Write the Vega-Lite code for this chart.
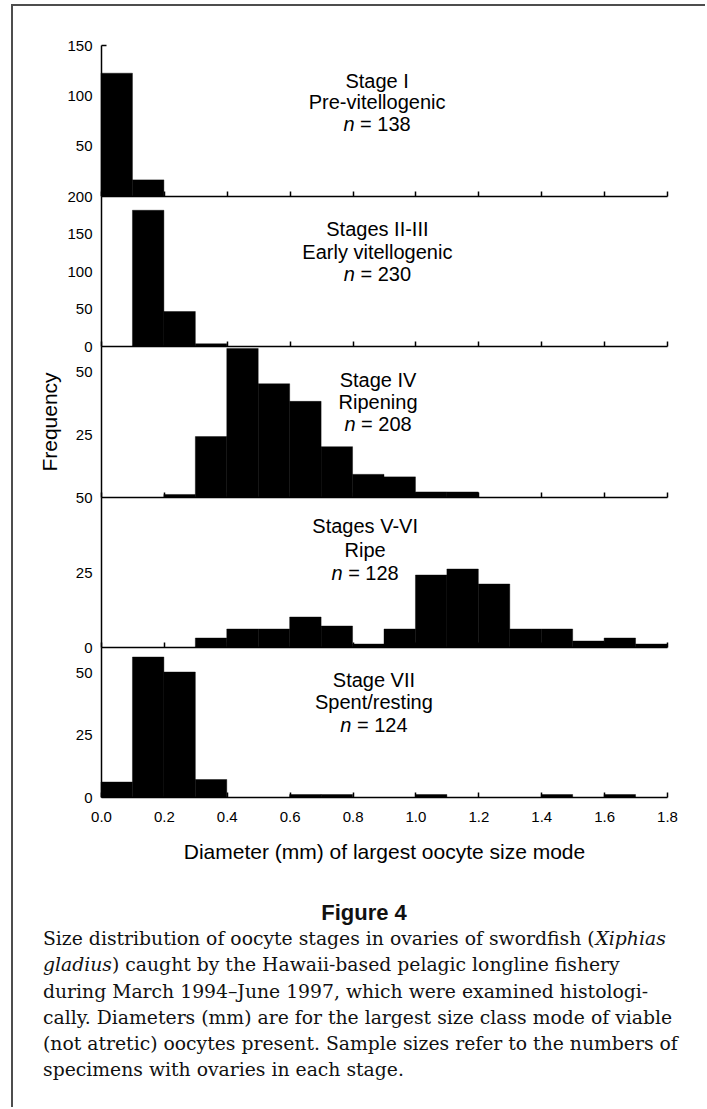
{
  "$schema": "https://vega.github.io/schema/vega-lite/v6.json",
  "padding": {"left": 11, "top": 4, "right": 0, "bottom": 0},
  "background": "white",
  "config": {
    "view": {"stroke": null},
    "font": "Liberation Sans",
    "axis": {
      "labelFont": "Liberation Sans", "titleFont": "Liberation Sans",
      "labelColor": "#000", "titleColor": "#000", "domainColor": "#000", "tickColor": "#000",
      "grid": false, "labelFontSize": 15, "titleFontWeight": "normal",
      "domainWidth": 1.5, "tickWidth": 1.5, "labelFlush": false, "labelOverlap": false
    },
    "axisY": {"labelOverlap": false},
    "axisQuantitative": {"labelOverlap": false}
  },
  "datasets": {
    "hist": [
      {"stage": "I", "lo": 0.0, "hi": 0.1, "count": 122},
      {"stage": "I", "lo": 0.1, "hi": 0.2, "count": 16},
      {"stage": "II-III", "lo": 0.1, "hi": 0.2, "count": 181},
      {"stage": "II-III", "lo": 0.2, "hi": 0.3, "count": 46},
      {"stage": "II-III", "lo": 0.3, "hi": 0.4, "count": 3},
      {"stage": "IV", "lo": 0.2, "hi": 0.3, "count": 1},
      {"stage": "IV", "lo": 0.3, "hi": 0.4, "count": 24},
      {"stage": "IV", "lo": 0.4, "hi": 0.5, "count": 59},
      {"stage": "IV", "lo": 0.5, "hi": 0.6, "count": 45},
      {"stage": "IV", "lo": 0.6, "hi": 0.7, "count": 38},
      {"stage": "IV", "lo": 0.7, "hi": 0.8, "count": 20},
      {"stage": "IV", "lo": 0.8, "hi": 0.9, "count": 9},
      {"stage": "IV", "lo": 0.9, "hi": 1.0, "count": 8},
      {"stage": "IV", "lo": 1.0, "hi": 1.1, "count": 2},
      {"stage": "IV", "lo": 1.1, "hi": 1.2, "count": 2},
      {"stage": "V-VI", "lo": 0.3, "hi": 0.4, "count": 3},
      {"stage": "V-VI", "lo": 0.4, "hi": 0.5, "count": 6},
      {"stage": "V-VI", "lo": 0.5, "hi": 0.6, "count": 6},
      {"stage": "V-VI", "lo": 0.6, "hi": 0.7, "count": 10},
      {"stage": "V-VI", "lo": 0.7, "hi": 0.8, "count": 7},
      {"stage": "V-VI", "lo": 0.8, "hi": 0.9, "count": 1},
      {"stage": "V-VI", "lo": 0.9, "hi": 1.0, "count": 6},
      {"stage": "V-VI", "lo": 1.0, "hi": 1.1, "count": 24},
      {"stage": "V-VI", "lo": 1.1, "hi": 1.2, "count": 26},
      {"stage": "V-VI", "lo": 1.2, "hi": 1.3, "count": 21},
      {"stage": "V-VI", "lo": 1.3, "hi": 1.4, "count": 6},
      {"stage": "V-VI", "lo": 1.4, "hi": 1.5, "count": 6},
      {"stage": "V-VI", "lo": 1.5, "hi": 1.6, "count": 2},
      {"stage": "V-VI", "lo": 1.6, "hi": 1.7, "count": 3},
      {"stage": "V-VI", "lo": 1.7, "hi": 1.8, "count": 1},
      {"stage": "VII", "lo": 0.0, "hi": 0.1, "count": 6},
      {"stage": "VII", "lo": 0.1, "hi": 0.2, "count": 56},
      {"stage": "VII", "lo": 0.2, "hi": 0.3, "count": 50},
      {"stage": "VII", "lo": 0.3, "hi": 0.4, "count": 7},
      {"stage": "VII", "lo": 0.6, "hi": 0.7, "count": 1},
      {"stage": "VII", "lo": 0.7, "hi": 0.8, "count": 1},
      {"stage": "VII", "lo": 1.0, "hi": 1.1, "count": 1},
      {"stage": "VII", "lo": 1.4, "hi": 1.5, "count": 1},
      {"stage": "VII", "lo": 1.6, "hi": 1.7, "count": 1}
    ],
    "labels": [
      {"stage": "I", "title": "Stage I", "desc": "Pre-vitellogenic", "nlab": "= 138"},
      {"stage": "II-III", "title": "Stages II-III", "desc": "Early vitellogenic", "nlab": "= 230"},
      {"stage": "IV", "title": "Stage IV", "desc": "Ripening", "nlab": "= 208"},
      {"stage": "V-VI", "title": "Stages V-VI", "desc": "Ripe", "nlab": "= 128"},
      {"stage": "VII", "title": "Stage VII", "desc": "Spent/resting", "nlab": "= 124"}
    ],
    "caption": [
      {"line": 0, "fig": "Figure 4"},
      {"line": 1, "l": "Size distribution of oocyte stages in ovaries of swordfish (", "ri": "Xiphias"},
      {"line": 2, "li": "gladius", "l2": ") caught by the Hawaii-based pelagic longline fishery"},
      {"line": 3, "l": "during March 1994\u2013June 1997, which were examined histologi-"},
      {"line": 4, "l": "cally. Diameters (mm) are for the largest size class mode of viable"},
      {"line": 5, "l": "(not atretic) oocytes present. Sample sizes refer to the numbers of"},
      {"line": 6, "l": "specimens with ovaries in each stage."}
    ]
  },
  "bounds": "flush",
  "spacing": 0,
  "hconcat": [
    {
      "width": 89,
      "height": 1102,
      "view": {"stroke": "#4d4d4d", "strokeWidth": 2, "strokeDash": [89, 1191, 1102]},
      "data": {"name": "caption"},
      "encoding": {
        "y": {"field": "line", "type": "quantitative", "axis": null, "scale": {"domain": [-34.70, 7.41], "reverse": true, "nice": false, "zero": false}}
      },
      "layer": [
        {
          "transform": [{"filter": "datum.fig"}],
          "mark": {"type": "text", "font": "Liberation Sans", "fontWeight": "bold", "fontSize": 22, "align": "center", "baseline": "middle", "color": "#111"},
          "encoding": {
            "x": {"datum": 0.504, "type": "quantitative", "axis": null, "scale": {"domain": [-0.048666, 0.091051], "nice": false, "zero": false}},
            "text": {"field": "fig"}
          }
        },
        {
          "transform": [{"filter": "datum.l"}],
          "mark": {"type": "text", "font": "DejaVu Serif", "fontSize": 18.8, "align": "left", "baseline": "middle", "color": "#111"},
          "encoding": {
            "x": {"datum": 0, "type": "quantitative", "axis": null, "scale": {"domain": [-0.048666, 0.091051], "nice": false, "zero": false}},
            "text": {"field": "l"}
          }
        },
        {
          "transform": [{"filter": "datum.l2"}],
          "mark": {"type": "text", "font": "DejaVu Serif", "fontSize": 18.8, "align": "left", "baseline": "middle", "dx": 69, "color": "#111"},
          "encoding": {
            "x": {"datum": 0, "type": "quantitative", "axis": null, "scale": {"domain": [-0.048666, 0.091051], "nice": false, "zero": false}},
            "text": {"field": "l2"}
          }
        },
        {
          "transform": [{"filter": "datum.li"}],
          "mark": {"type": "text", "font": "DejaVu Serif", "fontStyle": "italic", "fontSize": 18.8, "align": "left", "baseline": "middle", "color": "#111"},
          "encoding": {
            "x": {"datum": 0, "type": "quantitative", "axis": null, "scale": {"domain": [-0.048666, 0.091051], "nice": false, "zero": false}},
            "text": {"field": "li"}
          }
        },
        {
          "transform": [{"filter": "datum.ri"}],
          "mark": {"type": "text", "font": "DejaVu Serif", "fontStyle": "italic", "fontSize": 18.8, "align": "left", "baseline": "middle", "color": "#111"},
          "encoding": {
            "x": {"datum": 0.8673, "type": "quantitative", "axis": null, "scale": {"domain": [-0.048666, 0.091051], "nice": false, "zero": false}},
            "text": {"field": "ri"}
          }
        }
      ]
    },
    {
      "bounds": "flush",
      "spacing": 0,
      "vconcat": [
        {
          "width": 604, "height": 191,
          "view": {"stroke": "#4d4d4d", "strokeWidth": 2, "strokeDash": [604, 3000]},
          "layer": [
            {
              "data": {"name": "hist"},
              "transform": [{"filter": "datum.stage == 'I'"}],
              "mark": {"type": "rect", "color": "#000", "stroke": "#000", "strokeWidth": 0.4},
              "encoding": {
                "x": {"field": "lo", "type": "quantitative", "scale": {"domain": [0, 1.8], "range": [0, 566], "nice": false}, "axis": {"values": [0, 0.2, 0.4, 0.6, 0.8, 1.0, 1.2, 1.4, 1.6, 1.8], "labels": false, "title": null, "tickSize": -5}},
                "x2": {"field": "hi"},
                "y": {"field": "count", "type": "quantitative", "scale": {"domain": [0, 150], "range": [191, 40], "nice": false}, "axis": {"values": [50, 100, 150], "title": null, "tickSize": -5, "labelPadding": 14, "labelFlush": false, "labelOverlap": false}},
                "y2": {"datum": 0}
              }
            },
            {
              "data": {"name": "labels"},
              "transform": [{"filter": "datum.stage == 'I'"}],
              "layer": [
                {"mark": {"type": "text", "fontSize": 20, "align": "center", "baseline": "middle", "color": "#000"},
                 "encoding": {"x": {"datum": 0.878, "type": "quantitative"}, "y": {"datum": 113.5, "type": "quantitative"}, "text": {"field": "title"}}},
                {"mark": {"type": "text", "fontSize": 20, "align": "center", "baseline": "middle", "color": "#000"},
                 "encoding": {"x": {"datum": 0.878, "type": "quantitative"}, "y": {"datum": 92.1, "type": "quantitative"}, "text": {"field": "desc"}}},
                {"mark": {"type": "text", "fontSize": 20, "fontStyle": "italic", "align": "right", "baseline": "middle", "dx": -22.5, "color": "#000"},
                 "encoding": {"x": {"datum": 0.878, "type": "quantitative"}, "y": {"datum": 70.5, "type": "quantitative"}, "text": {"value": "n"}}},
                {"mark": {"type": "text", "fontSize": 20, "align": "left", "baseline": "middle", "dx": -17, "color": "#000"},
                 "encoding": {"x": {"datum": 0.878, "type": "quantitative"}, "y": {"datum": 70.5, "type": "quantitative"}, "text": {"field": "nlab"}}}
              ]
            }
          ]
        },
        {
          "width": 566, "height": 150,
          "layer": [
            {
              "data": {"name": "hist"},
              "transform": [{"filter": "datum.stage == 'II-III'"}],
              "mark": {"type": "rect", "color": "#000", "stroke": "#000", "strokeWidth": 0.4},
              "encoding": {
                "x": {"field": "lo", "type": "quantitative", "scale": {"domain": [0, 1.8], "nice": false}, "axis": {"values": [0, 0.2, 0.4, 0.6, 0.8, 1.0, 1.2, 1.4, 1.6, 1.8], "labels": false, "title": null, "tickSize": -5}},
                "x2": {"field": "hi"},
                "y": {"field": "count", "type": "quantitative", "scale": {"domain": [0, 200], "nice": false}, "axis": {"values": [0, 50, 100, 150, 200], "title": null, "ticks": false, "labelPadding": 9, "labelFlush": false, "labelOverlap": false, "labelSeparation": 0}},
                "y2": {"datum": 0}
              }
            },
            {
              "data": {"name": "labels"},
              "transform": [{"filter": "datum.stage == 'II-III'"}],
              "layer": [
                {"mark": {"type": "text", "fontSize": 20, "align": "center", "baseline": "middle", "color": "#000"},
                 "encoding": {"x": {"datum": 0.879, "type": "quantitative"}, "y": {"datum": 154.8, "type": "quantitative", "axis": {"values": [0, 50, 100, 150, 200], "title": null, "ticks": false, "labelPadding": 9, "labelFlush": false, "labelOverlap": false, "labelSeparation": 0}}, "text": {"field": "title"}}},
                {"mark": {"type": "text", "fontSize": 20, "align": "center", "baseline": "middle", "color": "#000"},
                 "encoding": {"x": {"datum": 0.879, "type": "quantitative"}, "y": {"datum": 124.4, "type": "quantitative", "axis": {"values": [0, 50, 100, 150, 200], "title": null, "ticks": false, "labelPadding": 9, "labelFlush": false, "labelOverlap": false, "labelSeparation": 0}}, "text": {"field": "desc"}}},
                {"mark": {"type": "text", "fontSize": 20, "fontStyle": "italic", "align": "right", "baseline": "middle", "dx": -22.5, "color": "#000"},
                 "encoding": {"x": {"datum": 0.879, "type": "quantitative"}, "y": {"datum": 95.3, "type": "quantitative", "axis": {"values": [0, 50, 100, 150, 200], "title": null, "ticks": false, "labelPadding": 9, "labelFlush": false, "labelOverlap": false, "labelSeparation": 0}}, "text": {"value": "n"}}},
                {"mark": {"type": "text", "fontSize": 20, "align": "left", "baseline": "middle", "dx": -17, "color": "#000"},
                 "encoding": {"x": {"datum": 0.879, "type": "quantitative"}, "y": {"datum": 95.3, "type": "quantitative", "axis": {"values": [0, 50, 100, 150, 200], "title": null, "ticks": false, "labelPadding": 9, "labelFlush": false, "labelOverlap": false, "labelSeparation": 0}}, "text": {"field": "nlab"}}}
              ]
            }
          ]
        },
        {
          "width": 566, "height": 151,
          "layer": [
            {
              "data": {"name": "hist"},
              "transform": [{"filter": "datum.stage == 'IV'"}],
              "mark": {"type": "rect", "color": "#000", "stroke": "#000", "strokeWidth": 0.4},
              "encoding": {
                "x": {"field": "lo", "type": "quantitative", "scale": {"domain": [0, 1.8], "nice": false}, "axis": {"values": [0, 0.2, 0.4, 0.6, 0.8, 1.0, 1.2, 1.4, 1.6, 1.8], "labels": false, "title": null, "tickSize": -5}},
                "x2": {"field": "hi"},
                "y": {"field": "count", "type": "quantitative", "scale": {"domain": [0, 60], "nice": false}, "axis": {"values": [25, 50], "title": "Frequency", "titleFontSize": 21, "titlePadding": 14.5, "ticks": false, "labelPadding": 9, "labelFlush": false, "labelOverlap": false}},
                "y2": {"datum": 0}
              }
            },
            {
              "data": {"name": "labels"},
              "transform": [{"filter": "datum.stage == 'IV'"}],
              "layer": [
                {"mark": {"type": "text", "fontSize": 20, "align": "center", "baseline": "middle", "color": "#000"},
                 "encoding": {"x": {"datum": 0.881, "type": "quantitative"}, "y": {"datum": 46.2, "type": "quantitative"}, "text": {"field": "title"}}},
                {"mark": {"type": "text", "fontSize": 20, "align": "center", "baseline": "middle", "color": "#000"},
                 "encoding": {"x": {"datum": 0.881, "type": "quantitative"}, "y": {"datum": 37.2, "type": "quantitative"}, "text": {"field": "desc"}}},
                {"mark": {"type": "text", "fontSize": 20, "fontStyle": "italic", "align": "right", "baseline": "middle", "dx": -22.5, "color": "#000"},
                 "encoding": {"x": {"datum": 0.881, "type": "quantitative"}, "y": {"datum": 28.6, "type": "quantitative"}, "text": {"value": "n"}}},
                {"mark": {"type": "text", "fontSize": 20, "align": "left", "baseline": "middle", "dx": -17, "color": "#000"},
                 "encoding": {"x": {"datum": 0.881, "type": "quantitative"}, "y": {"datum": 28.6, "type": "quantitative"}, "text": {"field": "nlab"}}}
              ]
            }
          ]
        },
        {
          "width": 566, "height": 150,
          "layer": [
            {
              "data": {"name": "hist"},
              "transform": [{"filter": "datum.stage == 'V-VI'"}],
              "mark": {"type": "rect", "color": "#000", "stroke": "#000", "strokeWidth": 0.4},
              "encoding": {
                "x": {"field": "lo", "type": "quantitative", "scale": {"domain": [0, 1.8], "nice": false}, "axis": {"values": [0, 0.2, 0.4, 0.6, 0.8, 1.0, 1.2, 1.4, 1.6, 1.8], "labels": false, "title": null, "tickSize": -5}},
                "x2": {"field": "hi"},
                "y": {"field": "count", "type": "quantitative", "scale": {"domain": [0, 50], "nice": false}, "axis": {"values": [0, 25, 50], "title": null, "ticks": false, "labelPadding": 9, "labelFlush": false, "labelOverlap": false}},
                "y2": {"datum": 0}
              }
            },
            {
              "data": {"name": "labels"},
              "transform": [{"filter": "datum.stage == 'V-VI'"}],
              "layer": [
                {"mark": {"type": "text", "fontSize": 20, "align": "center", "baseline": "middle", "color": "#000"},
                 "encoding": {"x": {"datum": 0.84, "type": "quantitative"}, "y": {"datum": 39.9, "type": "quantitative"}, "text": {"field": "title"}}},
                {"mark": {"type": "text", "fontSize": 20, "align": "center", "baseline": "middle", "color": "#000"},
                 "encoding": {"x": {"datum": 0.84, "type": "quantitative"}, "y": {"datum": 32.1, "type": "quantitative"}, "text": {"field": "desc"}}},
                {"mark": {"type": "text", "fontSize": 20, "fontStyle": "italic", "align": "right", "baseline": "middle", "dx": -22.5, "color": "#000"},
                 "encoding": {"x": {"datum": 0.84, "type": "quantitative"}, "y": {"datum": 24.3, "type": "quantitative"}, "text": {"value": "n"}}},
                {"mark": {"type": "text", "fontSize": 20, "align": "left", "baseline": "middle", "dx": -17, "color": "#000"},
                 "encoding": {"x": {"datum": 0.84, "type": "quantitative"}, "y": {"datum": 24.3, "type": "quantitative"}, "text": {"field": "nlab"}}}
              ]
            }
          ]
        },
        {
          "width": 566, "height": 150,
          "layer": [
            {
              "data": {"name": "hist"},
              "transform": [{"filter": "datum.stage == 'VII'"}],
              "mark": {"type": "rect", "color": "#000", "stroke": "#000", "strokeWidth": 0.4},
              "encoding": {
                "x": {"field": "lo", "type": "quantitative", "scale": {"domain": [0, 1.8], "nice": false}, "axis": {"values": [0, 0.2, 0.4, 0.6, 0.8, 1.0, 1.2, 1.4, 1.6, 1.8], "format": ".1f", "labelPadding": 17, "tickSize": -5, "labelFlush": false, "labelOverlap": false, "title": "Diameter (mm) of largest oocyte size mode", "titleFontSize": 21, "titlePadding": 17}},
                "x2": {"field": "hi"},
                "y": {"field": "count", "type": "quantitative", "scale": {"domain": [0, 60], "nice": false}, "axis": {"values": [0, 25, 50], "title": null, "ticks": false, "labelPadding": 9, "labelFlush": false, "labelOverlap": false}},
                "y2": {"datum": 0}
              }
            },
            {
              "data": {"name": "labels"},
              "transform": [{"filter": "datum.stage == 'VII'"}],
              "layer": [
                {"mark": {"type": "text", "fontSize": 20, "align": "center", "baseline": "middle", "color": "#000"},
                 "encoding": {"x": {"datum": 0.868, "type": "quantitative"}, "y": {"datum": 46.5, "type": "quantitative"}, "text": {"field": "title"}}},
                {"mark": {"type": "text", "fontSize": 20, "align": "center", "baseline": "middle", "color": "#000"},
                 "encoding": {"x": {"datum": 0.868, "type": "quantitative"}, "y": {"datum": 37.5, "type": "quantitative"}, "text": {"field": "desc"}}},
                {"mark": {"type": "text", "fontSize": 20, "fontStyle": "italic", "align": "right", "baseline": "middle", "dx": -22.5, "color": "#000"},
                 "encoding": {"x": {"datum": 0.868, "type": "quantitative"}, "y": {"datum": 28.4, "type": "quantitative"}, "text": {"value": "n"}}},
                {"mark": {"type": "text", "fontSize": 20, "align": "left", "baseline": "middle", "dx": -17, "color": "#000"},
                 "encoding": {"x": {"datum": 0.868, "type": "quantitative"}, "y": {"datum": 28.4, "type": "quantitative"}, "text": {"field": "nlab"}}}
              ]
            }
          ]
        }
      ]
    }
  ]
}
